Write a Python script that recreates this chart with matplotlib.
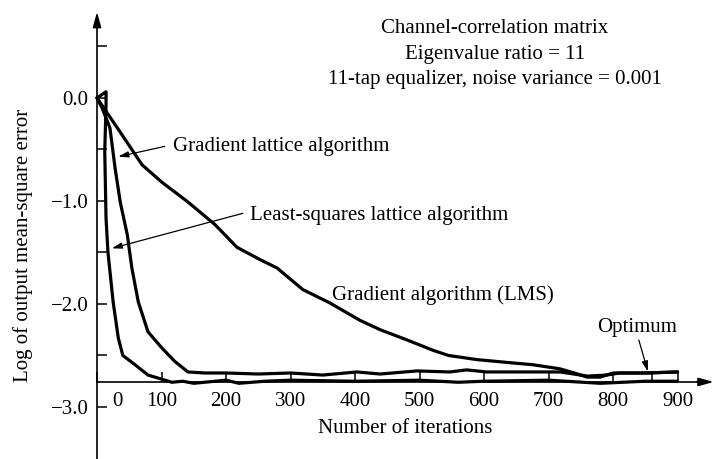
import matplotlib.pyplot as plt
from matplotlib.ticker import FixedLocator, FixedFormatter

plt.rcParams['font.family'] = ['Liberation Serif', 'DejaVu Serif']

# Learning curves (iterations vs. log of output mean-square error)
lms_n = [0, 39, 70, 101, 141, 183, 217, 253, 279, 319, 361, 408, 439, 481, 521,
         545, 589, 640, 676, 718, 740, 760, 780, 800, 853, 900]
lms_mse = [0.0, -0.36, -0.65, -0.82, -1.01, -1.23, -1.45, -1.57, -1.65, -1.86,
           -1.99, -2.16, -2.25, -2.35, -2.45, -2.50, -2.54, -2.57, -2.59, -2.63,
           -2.67, -2.71, -2.71, -2.67, -2.67, -2.66]

grad_lat_n = [0, 8, 20, 28, 36, 47, 54, 64, 79, 101, 121, 141, 167, 200, 250,
              300, 350, 403, 439, 496, 547, 573, 604, 676, 718, 760, 790, 810,
              850, 900]
grad_lat_mse = [0.0, -0.10, -0.29, -0.68, -1.01, -1.33, -1.65, -1.98, -2.27,
                -2.43, -2.56, -2.66, -2.67, -2.67, -2.68, -2.67, -2.69, -2.66,
                -2.68, -2.65, -2.66, -2.64, -2.66, -2.66, -2.66, -2.70, -2.69,
                -2.67, -2.67, -2.66]

ls_lat_n = [0, 14, 14, 12, 14, 17, 25, 33, 40, 59, 79, 95, 116, 133, 150, 200,
            220, 260, 300, 400, 500, 560, 600, 700, 780, 850, 900]
ls_lat_mse = [0.0, 0.06, -0.07, -0.52, -1.17, -1.50, -1.98, -2.33, -2.50,
              -2.59, -2.69, -2.72, -2.76, -2.75, -2.77, -2.74, -2.77, -2.75,
              -2.74, -2.75, -2.74, -2.76, -2.75, -2.74, -2.77, -2.75, -2.75]

x_ticks = [0, 100, 200, 300, 400, 500, 600, 700, 800, 900]
y_major = [0.0, -1.0, -2.0, -3.0]
y_labels = ['0.0', '\u22121.0', '\u22122.0', '\u22123.0']
y_minor = [0.5, -0.5, -1.5, -2.5]
x_axis_level = -2.757
optimum_n = 860

fig = plt.figure(figsize=(7.15, 4.59), dpi=100)
ax = fig.add_axes([0, 0, 1, 1])
ax.set_xlim(-150.4, 958.1)
ax.set_ylim(-3.505, 0.951)

curve = dict(color='black', lw=2.3, solid_joinstyle='round', solid_capstyle='round')
ax.plot(lms_n, lms_mse, **curve)
ax.plot(grad_lat_n, grad_lat_mse, **curve)
ax.plot(ls_lat_n, ls_lat_mse, **curve)

# axes crossing at the origin / residual level
for side in ['top', 'right']:
    ax.spines[side].set_visible(False)
ax.spines['left'].set_position(('data', 0))
ax.spines['bottom'].set_position(('data', x_axis_level))
ax.spines['left'].set_bounds(-3.6, 0.75)
ax.spines['bottom'].set_bounds(0, 940)
for side in ['left', 'bottom']:
    ax.spines[side].set_linewidth(1.2)

arrow = dict(arrowstyle='-|>,head_length=0.9,head_width=0.25', color='black',
             lw=1.2, shrinkA=0, shrinkB=0)
ax.annotate('', xy=(0, 0.835), xytext=(0, 0.70), arrowprops=arrow)
ax.annotate('', xy=(956, x_axis_level), xytext=(930, x_axis_level), arrowprops=arrow)

ax.xaxis.set_major_locator(FixedLocator(x_ticks))
ax.xaxis.set_major_formatter(FixedFormatter([''] + [str(v) for v in x_ticks[1:]]))
ax.xaxis.set_minor_locator(FixedLocator([optimum_n]))
ax.yaxis.set_major_locator(FixedLocator(y_major))
ax.yaxis.set_major_formatter(FixedFormatter(y_labels))
ax.yaxis.set_minor_locator(FixedLocator(y_minor))
ax.tick_params(axis='both', which='both', direction='in', length=7, width=1.1,
               labelsize=15)
ax.tick_params(axis='x', pad=7)
ax.tick_params(axis='y', pad=6)
ax.annotate('0', xy=(0, x_axis_level), xytext=(14.4, -7), textcoords='offset points',
            ha='center', va='top', fontsize=15)

ax.text(-115, -1.43, 'Log of output mean-square error', rotation=90,
        ha='center', va='center', fontsize=15)
ax.text(478, -3.25, 'Number of iterations', ha='center', va='baseline', fontsize=15)

ax.text(617, 0.631, 'Channel-correlation matrix', ha='center', va='baseline', fontsize=15)
ax.text(617, 0.383, 'Eigenvalue ratio = 11', ha='center', va='baseline', fontsize=15)
ax.text(617, 0.136, '11-tap equalizer, noise variance = 0.001', ha='center',
        va='baseline', fontsize=15)

pointer = dict(arrowstyle='-|>,head_length=0.6,head_width=0.18', color='black',
               lw=0.9, shrinkA=0, shrinkB=0)
ax.text(118, -0.515, 'Gradient lattice algorithm', ha='left', va='baseline', fontsize=15)
ax.annotate('', xy=(33, -0.57), xytext=(105, -0.47), arrowprops=pointer)
ax.text(237, -1.18, 'Least-squares lattice algorithm', ha='left', va='baseline', fontsize=15)
ax.annotate('', xy=(23, -1.46), xytext=(226, -1.12), arrowprops=pointer)
ax.text(364, -1.96, 'Gradient algorithm (LMS)', ha='left', va='baseline', fontsize=15)
ax.text(775, -2.27, 'Optimum', ha='left', va='baseline', fontsize=15)
ax.annotate('', xy=(854, -2.655), xytext=(840, -2.35), arrowprops=pointer)

fig.savefig('out.png', dpi=100)
